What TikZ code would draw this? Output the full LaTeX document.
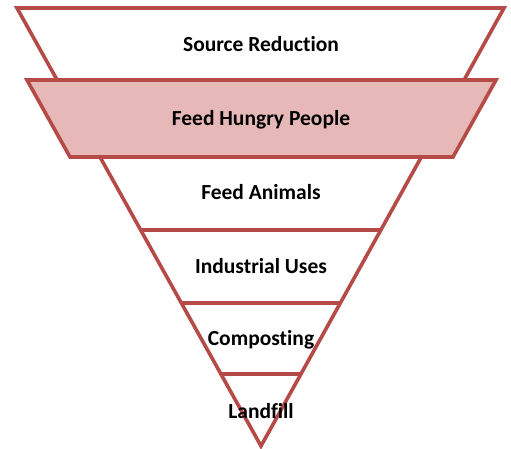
\documentclass[tikz,border=0pt]{standalone}
\usepackage{fontspec}
\setmainfont[Ligatures={NoCommon}]{Carlito}
\usetikzlibrary{calc}
\definecolor{edge}{HTML}{B64A46}
\definecolor{band}{HTML}{E6B9B8}
\tikzset{
  tier/.style={draw=edge, line width=3.6pt},
  lbl/.style={anchor=base, font=\fontsize{21.5}{25}\selectfont\bfseries, text=black, inner sep=0pt}
}
\begin{document}
\begin{tikzpicture}[x=1pt,y=-1pt]
\useasboundingbox (0,0) rectangle (511,449);
\coordinate (tl) at (17,8);
\coordinate (tr) at (504,8);
\coordinate (apex) at (261,446);
% big funnel
\draw[tier, fill=white] (tl) -- (tr) -- (apex) -- cycle;
% tier dividers
\draw[tier] ($(apex)!{(446-230)/438}!(tl)$) coordinate (a1) -- ($(apex)!{(446-230)/438}!(tr)$) coordinate (a2);
\draw[tier] ($(apex)!{(446-303)/438}!(tl)$) coordinate (b1) -- ($(apex)!{(446-303)/438}!(tr)$) coordinate (b2);
\draw[tier] ($(apex)!{(446-374)/438}!(tl)$) coordinate (c1) -- ($(apex)!{(446-374)/438}!(tr)$) coordinate (c2);
% highlighted band
\draw[tier, fill=band] (27,80) coordinate (h1) -- (496,80) coordinate (h2) -- (453,157) coordinate (h3) -- (70,157) coordinate (h4) -- cycle;
% labels
\node[lbl] (src) at (261,52) {Source Reduction};
\node[lbl] (hun) at (261,126) {Feed Hungry People};
\node[lbl] (ani) at (261,200) {Feed Animals};
\node[lbl] (ind) at (261,273) {Industrial Uses};
\node[lbl] (com) at (261,345) {Composting};
\node[lbl] (lan) at (261,418) {Landfill};
\end{tikzpicture}
\end{document}
